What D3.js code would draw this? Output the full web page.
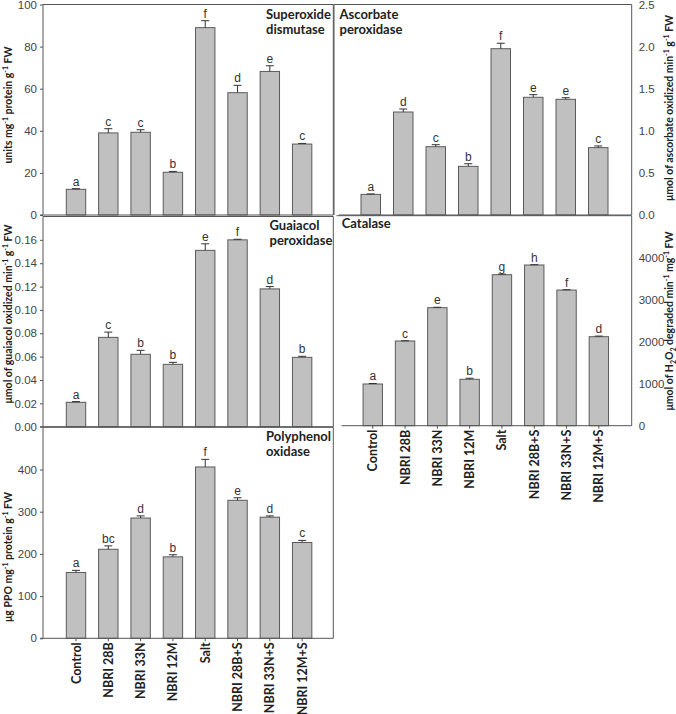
<!DOCTYPE html>
<html>
<head>
<meta charset="utf-8">
<script src="https://cdn.jsdelivr.net/npm/d3@7"></script>
<style>
  html, body { margin: 0; padding: 0; background: #fff; }
  svg { display: block; }
  .tick-label { font-family: "Liberation Sans", Arial, sans-serif; font-size: 11.5px; fill: #444; }
  .letter { font-family: "Liberation Sans", Arial, sans-serif; font-size: 12px; fill: #333; }
  .ptitle { font-family: Lato, "Open Sans", sans-serif; font-weight: bold; font-size: 13px; fill: #222; }
  .ytitle { font-family: Lato, "Open Sans", sans-serif; font-weight: bold; font-size: 10.5px; fill: #222; }
  .xlabel { font-family: Lato, "Open Sans", sans-serif; font-weight: bold; font-size: 12.5px; fill: #222; }
</style>
</head>
<body>
<svg id="chart" width="676" height="714"></svg>
<script>
// ---------- DATA ----------
const categories = ["Control", "NBRI 28B", "NBRI 33N", "NBRI 12M", "Salt", "NBRI 28B+S", "NBRI 33N+S", "NBRI 12M+S"];

const sodValues  = [12.2, 39.0, 39.3, 20.3, 89.0, 58.1, 68.2, 33.7];
const sodErrors  = [0.3, 2.0, 1.2, 0.4, 3.3, 3.5, 2.7, 0.3];
const sodLetters = ["a", "c", "c", "b", "f", "d", "e", "c"];

const apxValues  = [0.245, 1.223, 0.811, 0.578, 1.975, 1.398, 1.374, 0.800];
const apxErrors  = [0.005, 0.036, 0.024, 0.031, 0.065, 0.031, 0.019, 0.020];
const apxLetters = ["a", "d", "c", "b", "f", "e", "e", "c"];

const gpxValues  = [0.0209, 0.0765, 0.0620, 0.0534, 0.1510, 0.1600, 0.1180, 0.0594];
const gpxErrors  = [0.0006, 0.0045, 0.0034, 0.0017, 0.0056, 0.0005, 0.0020, 0.0009];
const gpxLetters = ["a", "c", "b", "b", "e", "f", "d", "b"];

const catValues  = [993, 2017, 2810, 1105, 3595, 3826, 3230, 2119];
const catErrors  = [12, 5, 10, 25, 15, 8, 8, 15];
const catLetters = ["a", "c", "e", "b", "g", "h", "f", "d"];

const ppoValues  = [156, 211, 285, 193, 406, 327, 287, 227];
const ppoErrors  = [5, 8, 5, 5, 18, 6, 3, 5];
const ppoLetters = ["a", "bc", "d", "b", "f", "e", "d", "c"];

const sodTicks = [0, 20, 40, 60, 80, 100];
const apxTicks = [0, 0.5, 1.0, 1.5, 2.0, 2.5];
const gpxTicks = [0, 0.02, 0.04, 0.06, 0.08, 0.10, 0.12, 0.14, 0.16];
const catTicks = [0, 1000, 2000, 3000, 4000];
const ppoTicks = [0, 100, 200, 300, 400];

// ---------- LAYOUT ----------
const svg = d3.select("#chart");
const axisColor = "#555";

const panels = [
  { values: sodValues, errors: sodErrors, letters: sodLetters, ticks: sodTicks, ymax: 100, fmt: d3.format("d"),
    x0: 43, x1: 333.3, y0: 4.5, y1: 215, band: [59.85, 318.3], side: "left", borders: ["top", "right"],
    title: ["Superoxide", "dismutase"], titleX: 266, titleY: 18.5, showX: false },
  { values: apxValues, errors: apxErrors, letters: apxLetters, ticks: apxTicks, ymax: 2.5, fmt: d3.format(".1f"),
    x0: 334, x1: 631.7, y0: 4.5, y1: 215, band: [354.5, 614.5], side: "right", borders: ["top", "left"],
    title: ["Ascorbate", "peroxidase"], titleX: 339.5, titleY: 18.5, showX: false },
  { values: gpxValues, errors: gpxErrors, letters: gpxLetters, ticks: gpxTicks, ymax: 0.18, fmt: d3.format(".2f"),
    x0: 43, x1: 333.3, y0: 216.5, y1: 426.7, band: [59.85, 318.3], side: "left", borders: ["top", "right"],
    title: ["Guaiacol", "peroxidase"], titleX: 269.5, titleY: 230, showX: false },
  { values: catValues, errors: catErrors, letters: catLetters, ticks: catTicks, ymax: 5000, fmt: d3.format("d"),
    x0: 336.5, x1: 631.7, y0: 215.7, y1: 425.7, band: [356.6, 615], side: "right", borders: ["top"],
    title: ["Catalase"], titleX: 341.7, titleY: 228.3, showX: true, xTicks: true },
  { values: ppoValues, errors: ppoErrors, letters: ppoLetters, ticks: ppoTicks, ymax: 500, fmt: d3.format("d"),
    x0: 43, x1: 333.3, y0: 427.3, y1: 638.3, band: [59.85, 318.3], side: "left", borders: ["top", "right"],
    title: ["Polyphenol", "oxidase"], titleX: 266, titleY: 440.7, showX: true, xTicks: true }
];

panels.forEach(p => {
  const g = svg.append("g");
  const x = d3.scaleBand().domain(categories).range(p.band).paddingInner(0.4).paddingOuter(0.2);
  const y = d3.scaleLinear().domain([0, p.ymax]).range([p.y1, p.y0]);

  // borders
  const bc = g.append("g").attr("stroke", axisColor).attr("stroke-width", 1).attr("fill", "none");
  if (p.borders.includes("top")) bc.append("line").attr("x1", p.x0).attr("x2", p.x1).attr("y1", p.y0).attr("y2", p.y0);
  if (p.borders.includes("right")) bc.append("line").attr("x1", p.x1).attr("x2", p.x1).attr("y1", p.y0).attr("y2", p.y1);
  if (p.borders.includes("left")) bc.append("line").attr("x1", p.x0).attr("x2", p.x0).attr("y1", p.y0).attr("y2", p.y1);

  // bars
  g.append("g").selectAll("rect").data(categories).join("rect")
    .attr("x", d => x(d))
    .attr("y", (d, i) => y(p.values[i]))
    .attr("width", x.bandwidth())
    .attr("height", (d, i) => y(0) - y(p.values[i]))
    .attr("fill", "#c0c0c0")
    .attr("stroke", "#5a5a5a")
    .attr("stroke-width", 1);

  // error bars (upper only)
  const eb = g.append("g").attr("stroke", "#333").attr("stroke-width", 1);
  categories.forEach((c, i) => {
    const cx = x(c) + x.bandwidth() / 2;
    const top = y(p.values[i] + p.errors[i]);
    eb.append("line").attr("x1", cx).attr("x2", cx).attr("y1", y(p.values[i])).attr("y2", top);
    eb.append("line").attr("x1", cx - 4).attr("x2", cx + 4).attr("y1", top).attr("y2", top);
  });

  // letters
  g.append("g").selectAll("text").data(categories).join("text")
    .attr("class", "letter")
    .attr("x", d => x(d) + x.bandwidth() / 2)
    .attr("y", (d, i) => y(p.values[i] + p.errors[i]) - 3)
    .attr("text-anchor", "middle")
    .text((d, i) => p.letters[i]);

  // y axis
  const yAxisG = g.append("g");
  if (p.side === "left") {
    yAxisG.attr("transform", `translate(${p.x0},0)`)
      .call(d3.axisLeft(y).tickValues(p.ticks).tickFormat(p.fmt).tickSize(3).tickPadding(3));
  } else {
    yAxisG.attr("transform", `translate(${p.x1},0)`)
      .call(d3.axisRight(y).tickValues(p.ticks).tickFormat(p.fmt).tickSize(0).tickPadding(7));
  }
  yAxisG.select(".domain").attr("stroke", axisColor).attr("d", `M0,${p.y0}V${p.y1}`);
  yAxisG.selectAll(".tick line").attr("stroke", axisColor);
  yAxisG.selectAll(".tick text").attr("class", "tick-label").attr("font-family", null).attr("font-size", null).attr("fill", null);
  yAxisG.attr("font-family", null).attr("font-size", null);

  // x axis
  const xStart = p.side === "left" ? p.x0 - 3 : p.x0 + 5;
  const xAxisG = g.append("g").attr("transform", `translate(0,${p.y1})`)
    .call(d3.axisBottom(x).tickSize(p.xTicks ? 3 : 0).tickFormat(""));
  xAxisG.select(".domain").attr("stroke", axisColor).attr("d", `M${xStart},0H${p.x1}`);
  xAxisG.selectAll(".tick line").attr("stroke", axisColor);

  if (p.showX) {
    g.append("g").selectAll("text").data(categories).join("text")
      .attr("class", "xlabel")
      .attr("text-anchor", "end")
      .attr("transform", d => `translate(${x(d) + x.bandwidth() / 2 + 4.5},${p.y1 + 4}) rotate(-90)`)
      .text(d => d);
  }

  // panel title
  const t = g.append("text").attr("class", "ptitle").attr("x", p.titleX).attr("y", p.titleY);
  p.title.forEach((line, k) => {
    t.append("tspan").attr("x", p.titleX).attr("dy", k === 0 ? 0 : 15.3).text(line);
  });
});

// ---------- Y AXIS TITLES ----------
function yTitle(xPos, yCenter, parts) {
  const t = svg.append("text").attr("class", "ytitle")
    .attr("text-anchor", "middle")
    .attr("transform", `translate(${xPos},${yCenter}) rotate(-90)`);
  parts.forEach(pt => {
    const s = t.append("tspan").text(pt.t);
    if (pt.sup) s.attr("font-size", "7px").attr("dy", "-4");
    if (pt.sub) s.attr("font-size", "7px").attr("dy", "2.5");
    if (pt.back) s.attr("dy", pt.back);
  });
}

yTitle(12, 105, [
  { t: "units mg" }, { t: "-1", sup: true }, { t: " protein g", back: 4 }, { t: "-1", sup: true }, { t: " FW", back: 4 }
]);
yTitle(12, 314, [
  { t: "μmol of guaiacol oxidized min" }, { t: "-1", sup: true }, { t: "  g", back: 4 }, { t: "-1", sup: true }, { t: " FW", back: 4 }
]);
yTitle(12, 557, [
  { t: "μg  PPO mg" }, { t: "-1", sup: true }, { t: " protein g", back: 4 }, { t: "-1", sup: true }, { t: " FW", back: 4 }
]);
yTitle(673, 108, [
  { t: "μmol of ascorbate oxidized min" }, { t: "-1", sup: true }, { t: " g", back: 4 }, { t: "-1", sup: true }, { t: " FW", back: 4 }
]);
yTitle(673, 321, [
  { t: "μmol of H" }, { t: "2", sub: true }, { t: "O", back: -2.5 }, { t: "2", sub: true }, { t: " degraded min", back: -2.5 },
  { t: "-1", sup: true }, { t: "  mg", back: 4 }, { t: "-1", sup: true }, { t: " FW", back: 4 }
]);
</script>
</body>
</html>
